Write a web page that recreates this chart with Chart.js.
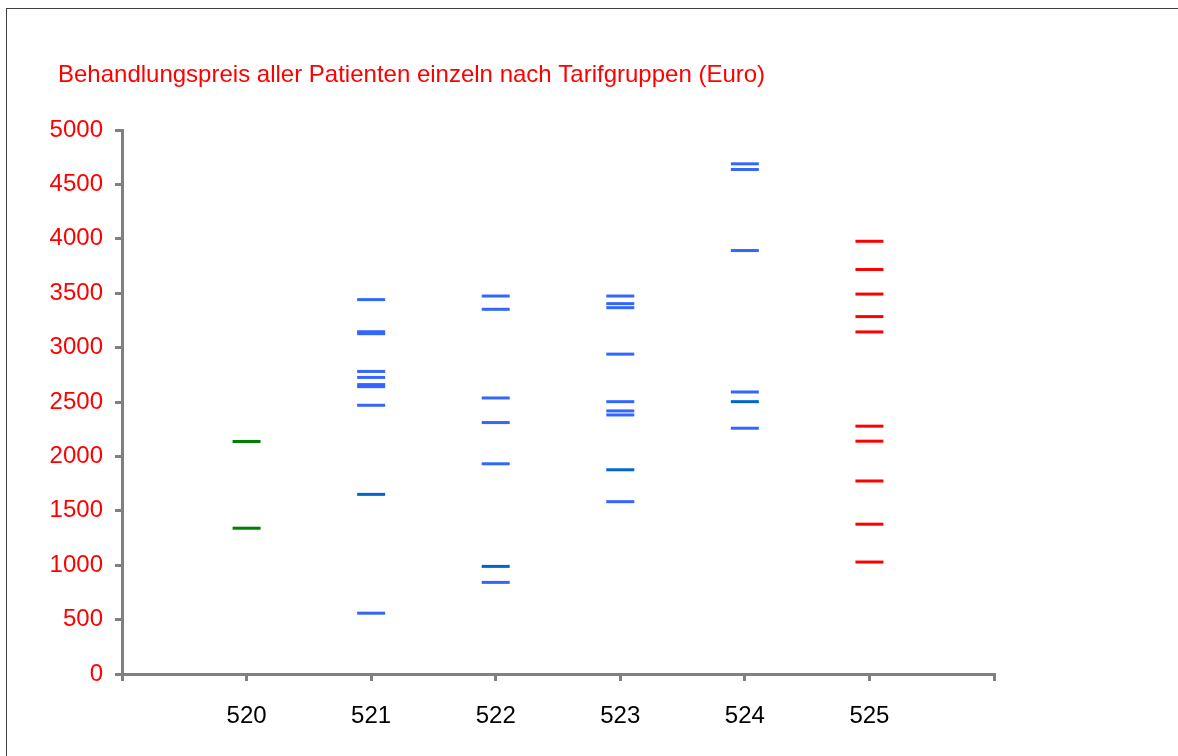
<!DOCTYPE html>
<html>
<head>
<meta charset="utf-8">
<script src="https://cdn.jsdelivr.net/npm/chart.js@4/dist/chart.umd.min.js"></script>
<style>
  html, body { margin: 0; padding: 0; background: #fff; overflow: hidden; }
  #frame { position: absolute; left: 6px; top: 8px; width: 1300px; height: 900px; border: 1px solid #404040; }
  #wrap { position: absolute; left: 0; top: 0; width: 1178px; height: 756px; }
</style>
</head>
<body>
<div id="frame"></div>
<div id="wrap"><canvas id="chart" width="1178" height="756"></canvas></div>
<script>
// Tarifgruppen (x positions) and prices per patient
var groups = [520, 521, 522, 523, 524, 525];
var price520 = [2137, 1340];
var price521 = [3441, 3146, 3128, 2781, 2726, 2660, 2641, 2470, 559];
var price521dark = [1651];
var price522 = [3474, 3352, 2537, 2311, 1932, 842];
var price522dark = [989];
var price523 = [3474, 3404, 3367, 2940, 2503, 2418, 2381, 1584];
var price523dark = [1877];
var price524 = [4689, 4637, 3892, 2592, 2259];
var price524dark = [2503];
var price525 = [3977, 3718, 3492, 3285, 3144, 2278, 2140, 1774, 1377, 1029];
var yTicks = [0, 500, 1000, 1500, 2000, 2500, 3000, 3500, 4000, 4500, 5000];
var titleText = "Behandlungspreis aller Patienten einzeln nach Tarifgruppen (Euro)";

function toPoints(group, values) {
    return values.map(function (v) { return { x: group, y: v }; });
}

var lightBlue = [].concat(
    toPoints(groups[1], price521),
    toPoints(groups[2], price522),
    toPoints(groups[3], price523),
    toPoints(groups[4], price524)
);
var darkBlue = [].concat(
    toPoints(groups[1], price521dark),
    toPoints(groups[2], price522dark),
    toPoints(groups[3], price523dark),
    toPoints(groups[4], price524dark)
);

function markSet(points, color) {
    return {
        data: points,
        pointStyle: "line",
        pointRadius: 14,
        pointHoverRadius: 14,
        pointBorderWidth: 3,
        pointHoverBorderWidth: 3,
        borderColor: color,
        backgroundColor: color,
        showLine: false
    };
}

var fontFamily = "'Liberation Sans', Arial, sans-serif";

// title drawn left of the plot, like the original
var titlePlugin = {
    id: "leftTitle",
    afterDraw: function (chart) {
        var c = chart.ctx;
        c.save();
        c.font = "24px " + fontFamily;
        c.fillStyle = "#FF0000";
        c.textAlign = "left";
        c.textBaseline = "alphabetic";
        c.fillText(titleText, 58, 82);
        c.restore();
    }
};

var ctx = document.getElementById("chart").getContext("2d");
var graph = new Chart(ctx, {
    type: "scatter",
    data: {
        datasets: [
            markSet(toPoints(groups[0], price520), "#008000"),
            markSet(lightBlue, "#3366FF"),
            markSet(darkBlue, "#0066CC"),
            markSet(toPoints(groups[5], price525), "#FF0000")
        ]
    },
    plugins: [titlePlugin],
    options: {
        responsive: false,
        animation: false,
        events: [],
        layout: { padding: { left: 20, top: 130, right: 184, bottom: 22 } },
        plugins: {
            legend: { display: false },
            tooltip: { enabled: false },
            title: { display: false }
        },
        scales: {
            x: {
                type: "linear",
                min: 519,
                max: 526,
                afterFit: function (scale) { scale.height = 60; },
                afterBuildTicks: function (scale) {
                    scale.ticks = [519].concat(groups, [526]).map(function (v) { return { value: v }; });
                },
                ticks: {
                    color: "#000000",
                    font: { family: fontFamily, size: 24 },
                    padding: 21,
                    maxRotation: 0,
                    autoSkip: false,
                    callback: function (v) { return groups.indexOf(v) >= 0 ? String(v) : ""; }
                },
                grid: {
                    drawOnChartArea: false,
                    drawTicks: true,
                    tickLength: 7,
                    lineWidth: 3,
                    color: "#808080"
                },
                border: { display: true, color: "#808080", width: 3 }
            },
            y: {
                min: 0,
                max: 5000,
                afterFit: function (scale) { scale.width = 102; },
                afterBuildTicks: function (scale) {
                    scale.ticks = yTicks.map(function (v) { return { value: v }; });
                },
                ticks: {
                    color: "#FF0000",
                    font: { family: fontFamily, size: 24 },
                    padding: 12,
                    callback: function (v) { return String(v); }
                },
                grid: {
                    drawOnChartArea: false,
                    drawTicks: true,
                    tickLength: 7,
                    lineWidth: 3,
                    color: "#808080"
                },
                border: { display: true, color: "#808080", width: 3 }
            }
        }
    }
});
</script>
</body>
</html>
